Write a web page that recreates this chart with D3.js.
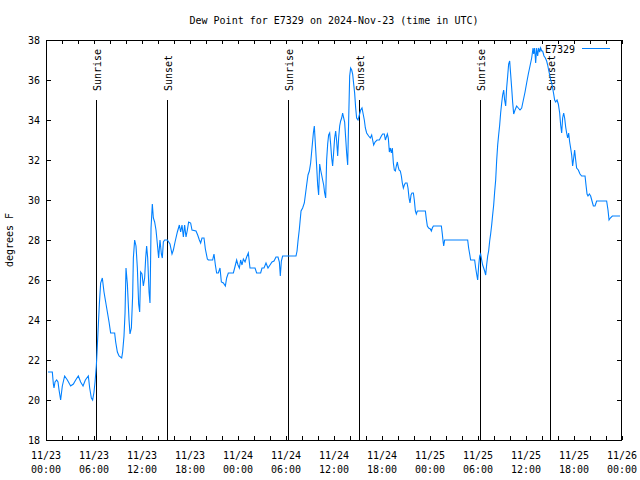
<!DOCTYPE html>
<html>
<head>
<meta charset="utf-8">
<script src="https://cdn.jsdelivr.net/npm/d3@7"></script>
<style>
  html, body { margin: 0; padding: 0; background: #fff; }
  svg { display: block; }
  text { font-family: "DejaVu Sans Mono", "Liberation Mono", monospace; fill: #000; }
</style>
</head>
<body>
<svg id="chart" width="640" height="480"></svg>
<script>
// ---- data (hours since 2024-11-23 00:00 UTC) ----
const titleText = "Dew Point for E7329 on 2024-Nov-23 (time in UTC)";
const seriesName = "E7329";
const yLabel = "degrees F";
const startUTC = Date.UTC(2024, 10, 23, 0, 0);
const endUTC = Date.UTC(2024, 10, 26, 0, 0);
const yTicks = [18, 20, 22, 24, 26, 28, 30, 32, 34, 36, 38];

const hours = [
  0.25,0.79,0.92,1.0,1.13,1.33,1.5,1.63,1.83,2.04,2.33,2.67,3.08,3.42,3.71,4.04,4.33,4.63,4.92,5.29,
  5.46,5.67,5.83,6.0,6.13,6.29,6.38,6.5,6.67,6.83,7.04,7.25,7.46,7.67,7.88,8.08,8.58,8.71,8.92,9.13,
  9.46,9.58,9.75,9.88,10.0,10.17,10.38,10.5,10.67,10.83,10.92,11.08,11.25,11.42,11.58,11.71,11.83,12.0,12.17,12.33,
  12.46,12.58,12.71,12.88,13.0,13.13,13.29,13.42,13.58,13.75,13.92,14.08,14.25,14.42,14.54,14.67,14.83,15.17,15.5,15.75,
  15.92,16.13,16.42,16.67,16.83,17.0,17.17,17.33,17.5,17.67,17.83,18.08,18.25,18.75,18.96,19.17,19.33,19.5,19.75,19.92,
  20.17,20.29,20.83,21.0,21.17,21.33,21.54,21.75,21.92,22.17,22.42,22.58,22.79,23.42,23.58,23.83,24.0,24.17,24.33,24.5,
  24.67,24.88,25.08,25.29,25.5,26.13,26.33,26.83,27.0,27.25,27.5,27.75,28.0,28.25,28.5,28.75,29.0,29.17,29.29,29.42,
  29.58,31.25,31.38,31.5,31.67,31.75,31.88,32.08,32.29,32.42,32.58,32.75,32.92,33.08,33.25,33.42,33.54,33.67,33.83,33.96,
  34.08,34.21,34.33,34.46,34.58,34.71,34.83,34.96,35.08,35.21,35.33,35.46,35.58,35.71,35.83,35.96,36.08,36.21,36.33,36.46,
  36.58,36.71,36.83,36.96,37.08,37.21,37.33,37.46,37.58,37.71,37.83,37.96,38.08,38.21,38.33,38.46,38.58,38.71,38.83,39.0,
  39.17,39.33,39.5,39.67,39.79,39.92,40.08,40.33,40.54,40.71,40.83,40.96,41.13,41.38,41.67,41.92,42.08,42.29,42.42,42.67,
  42.79,42.92,43.04,43.17,43.29,43.42,43.54,43.67,43.79,43.92,44.0,44.13,44.29,44.42,44.54,44.67,44.79,44.92,45.13,45.25,
  45.38,45.5,45.63,45.75,45.92,46.04,46.17,46.29,46.42,47.42,47.54,47.67,47.83,48.04,48.17,48.29,48.42,49.42,49.54,49.63,
  49.71,49.83,52.71,52.83,52.96,53.08,53.58,53.71,53.83,53.96,54.08,54.21,54.33,54.46,54.58,54.71,54.83,54.96,55.08,55.21,
  55.33,55.46,55.58,55.71,55.83,55.96,56.08,56.21,56.33,56.46,56.58,56.71,56.83,56.96,57.08,57.21,57.33,57.46,57.58,57.71,
  57.83,57.96,58.08,58.21,58.33,58.46,58.63,58.83,59.04,59.25,59.46,59.67,59.88,60.08,60.29,60.5,60.71,60.88,60.96,61.08,
  61.21,61.33,61.46,61.58,61.71,61.83,61.96,62.08,62.25,62.42,62.58,62.71,62.83,62.96,63.08,63.21,63.33,63.46,63.58,63.71,
  63.88,64.04,64.21,64.33,64.46,64.58,64.71,64.83,64.96,65.08,65.21,65.33,65.46,65.58,65.71,65.83,65.96,66.08,66.21,66.33,
  66.54,66.75,66.96,67.38,67.5,67.63,67.75,67.92,68.08,68.25,68.42,68.63,68.83,70.08,70.25,70.38,70.54,70.79,71.75
];
const dewPoint = [
  21.4,21.4,20.8,20.6,20.9,21.0,20.9,20.5,20.0,20.7,21.2,21.0,20.7,20.8,21.0,21.2,20.9,20.7,21.0,21.2,
  20.6,20.1,20.0,20.4,20.9,21.7,22.4,23.4,24.8,25.85,26.1,25.4,24.9,24.4,23.9,23.35,23.35,22.9,22.4,22.2,
  22.1,22.4,23.2,24.35,26.6,25.8,24.0,23.3,23.6,25.2,27.1,28.0,27.7,26.6,24.8,24.4,26.4,26.3,25.7,26.1,
  27.1,27.7,27.1,25.4,24.85,28.6,29.8,29.1,28.9,28.5,27.8,27.1,28.0,27.3,27.1,27.9,28.0,28.0,27.8,27.3,
  27.5,27.9,28.4,28.75,28.4,28.75,28.15,28.75,28.15,28.5,28.9,28.85,28.5,28.45,28.25,28.0,27.85,28.1,28.1,27.55,
  27.05,27.0,27.0,27.3,26.75,26.35,26.35,26.6,25.9,25.85,25.7,26.1,26.35,26.35,26.6,27.0,26.75,26.6,27.0,26.75,
  27.05,26.9,27.15,27.35,26.6,26.6,26.35,26.35,26.6,26.6,26.85,26.6,26.75,26.9,26.95,27.15,27.15,26.9,26.2,26.95,
  27.2,27.2,27.45,27.95,28.55,28.9,29.45,29.6,29.85,30.25,30.75,31.25,31.45,31.85,32.6,33.35,33.7,32.8,31.7,30.75,
  30.25,31.8,31.5,31.25,31.0,30.75,30.35,30.1,32.0,32.8,33.25,33.35,32.8,32.1,31.7,32.4,33.1,33.45,32.95,32.2,
  33.1,33.7,33.95,34.1,34.35,34.1,33.9,33.1,32.35,31.75,33.95,36.2,36.6,36.5,36.3,35.8,35.35,34.6,34.1,34.0,
  34.25,34.5,34.6,34.25,34.0,33.6,33.35,33.2,33.1,33.25,33.0,32.75,32.9,33.0,33.0,33.2,33.3,33.3,33.0,33.3,
  33.1,32.4,32.6,32.35,32.6,31.85,31.5,31.45,31.7,31.9,31.7,31.5,31.45,31.2,30.85,30.6,30.75,30.85,30.85,30.6,
  30.1,29.85,30.25,30.35,30.35,30.0,29.45,29.3,29.45,29.45,29.05,28.7,28.6,28.55,28.45,28.6,28.7,28.7,28.3,27.95,
  27.7,28.0,28.0,27.6,27.3,27.0,27.0,26.6,26.3,26.0,26.7,27.2,27.3,27.0,26.75,26.6,26.45,26.25,26.75,27.2,
  27.45,27.95,28.3,28.75,29.25,29.75,30.4,31.0,31.95,32.75,33.25,33.75,34.35,34.85,35.25,35.5,35.0,34.7,35.6,36.2,
  36.8,36.95,36.3,35.6,34.9,34.3,34.5,34.7,34.6,34.5,34.6,35.0,35.4,35.85,36.3,36.7,37.1,37.6,37.3,37.6,
  36.85,37.6,37.2,37.6,37.4,37.6,37.45,37.45,37.2,37.1,36.95,36.75,36.5,36.25,36.0,35.85,35.6,35.3,35.0,34.9,
  35.0,34.8,34.35,33.75,33.35,34.1,34.35,34.1,33.65,33.35,33.1,33.35,32.9,32.6,32.25,31.7,32.1,32.5,32.0,31.6,
  31.5,31.3,31.2,31.2,30.75,30.3,30.2,30.3,30.2,29.95,29.7,29.7,29.95,29.95,29.5,29.0,29.1,29.2,29.2
];

// sun events (hours since start)
const sunLabels = ["Sunrise", "Sunset", "Sunrise", "Sunset", "Sunrise", "Sunset"];
const sunHours = [6.27, 15.15, 30.27, 39.15, 54.27, 63.06];
const sunLineTop = 35;

// ---- layout ----
const svg = d3.select("#chart");
const L = 46, R = 622, T = 40, B = 440;
const toDate = h => new Date(startUTC + h * 3600e3);

const x = d3.scaleUtc().domain([new Date(startUTC), new Date(endUTC)]).range([L, R]);
const y = d3.scaleLinear().domain([18, 38]).range([B, T]);

const data = hours.map((h, i) => ({ t: toDate(h), v: dewPoint[i] }));

// title
svg.append("text").attr("x", 334).attr("y", 24).attr("text-anchor", "middle")
  .style("font-size", "10px").text(titleText);

// y label
svg.append("text").attr("transform", "translate(13,240) rotate(-90)")
  .attr("text-anchor", "middle").style("font-size", "10px").text(yLabel);

const g = svg.append("g");

// minor x ticks (2h) top & bottom
const minorTicks = x.ticks(d3.utcHour.every(2));
const majorTicks = x.ticks(d3.utcHour.every(6));
g.selectAll(".mt").data(minorTicks).enter().append("line")
  .attr("x1", d => Math.round(x(d)) + 0.5).attr("x2", d => Math.round(x(d)) + 0.5)
  .attr("y1", B).attr("y2", B - 4).attr("stroke", "#000").attr("stroke-width", 1);
g.selectAll(".mtt").data(minorTicks).enter().append("line")
  .attr("x1", d => Math.round(x(d)) + 0.5).attr("x2", d => Math.round(x(d)) + 0.5)
  .attr("y1", T).attr("y2", T + 4).attr("stroke", "#000").attr("stroke-width", 1);

// y ticks left & right
yTicks.forEach(v => {
  const yy = Math.round(y(v)) + 0.5;
  g.append("line").attr("x1", L).attr("x2", L + 5).attr("y1", yy).attr("y2", yy).attr("stroke", "#000");
  g.append("line").attr("x1", R - 5).attr("x2", R).attr("y1", yy).attr("y2", yy).attr("stroke", "#000");
  g.append("text").attr("x", 40).attr("y", y(v) + 4).attr("text-anchor", "end")
    .style("font-size", "10px").text(v);
});

// x tick labels
const fmtD = d3.utcFormat("%m/%d"), fmtT = d3.utcFormat("%H:%M");
majorTicks.forEach(d => {
  const xx = x(d);
  g.append("text").attr("x", xx).attr("y", 459).attr("text-anchor", "middle")
    .style("font-size", "10px").text(fmtD(d));
  g.append("text").attr("x", xx).attr("y", 473).attr("text-anchor", "middle")
    .style("font-size", "10px").text(fmtT(d));
});

// sunrise / sunset lines
sunHours.forEach((h, i) => {
  const xx = Math.round(x(toDate(h))) + 0.5;
  g.append("line").attr("x1", xx).attr("x2", xx).attr("y1", y(sunLineTop)).attr("y2", B)
    .attr("stroke", "#000").attr("stroke-width", 1);
  g.append("text").attr("transform", `translate(${xx + 4},91) rotate(-90)`)
    .attr("text-anchor", "start").style("font-size", "10px").text(sunLabels[i]);
});

// data line
const line = d3.line().x(d => x(d.t)).y(d => y(d.v));
g.append("path").datum(data).attr("d", line)
  .attr("fill", "none").attr("stroke", "#0080ff").attr("stroke-width", 1.1)
  .attr("stroke-linejoin", "miter");

// frame
g.append("rect").attr("x", L + 0.5).attr("y", T + 0.5).attr("width", R - L - 1).attr("height", B - T)
  .attr("fill", "none").attr("stroke", "#000").attr("stroke-width", 1);

// legend
svg.append("text").attr("x", 575).attr("y", 53).attr("text-anchor", "end")
  .style("font-size", "10px").text(seriesName);
svg.append("line").attr("x1", 582).attr("x2", 610).attr("y1", 48.5).attr("y2", 48.5)
  .attr("stroke", "#0080ff").attr("stroke-width", 1);
</script>
</body>
</html>
